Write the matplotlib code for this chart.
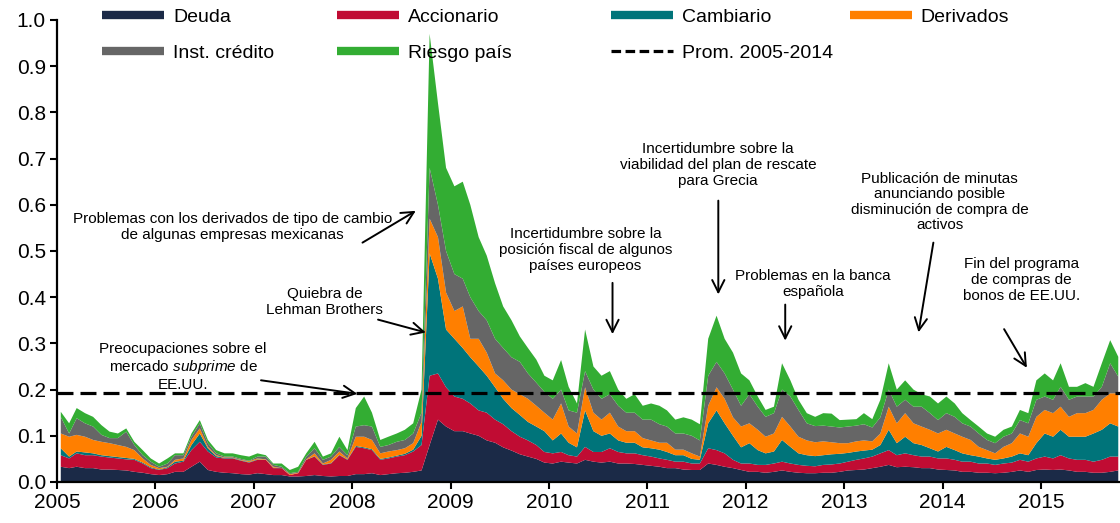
import matplotlib
matplotlib.use("Agg")
import matplotlib.pyplot as plt
import matplotlib.dates as mdates
from matplotlib.lines import Line2D
import numpy as np
import pandas as pd

plt.rcParams["font.family"] = "Liberation Sans"
plt.rcParams["mathtext.fontset"] = "custom"
plt.rcParams["mathtext.it"] = "Liberation Sans:italic"
plt.rcParams["mathtext.rm"] = "Liberation Sans"

# Datos mensuales ene-2005 a oct-2015
fechas = pd.date_range("2005-01-01", "2015-10-01", freq="MS") + pd.Timedelta(days=14)

deuda = [
    .033, .030, .033, .030, .030, .027, .027, .026, .025, .022, .020, .017,
    .015, .017, .022, .022, .033, .044, .026, .022, .020, .019, .017, .016,
    .019, .017, .015, .015, .012, .012, .013, .015, .013, .012, .013, .013,
    .017, .017, .019, .015, .017, .019, .020, .022, .025, .080, .135, .120,
    .110, .110, .105, .100, .090, .085, .075, .068, .060, .055, .050, .042,
    .040, .044, .042, .040, .048, .044, .042, .044, .040, .040, .039, .037,
    .035, .033, .030, .030, .027, .026, .026, .040, .037, .033, .030, .026,
    .022, .022, .020, .022, .025, .022, .020, .019, .019, .020, .020, .022,
    .025, .026, .027, .030, .033, .037, .032, .033, .032, .030, .030, .027,
    .026, .025, .022, .022, .020, .020, .019, .020, .022, .025, .022, .026,
    .027, .026, .027, .025, .022, .022, .020, .020, .022, .025,
]
accionario = [
    .025, .021, .029, .028, .028, .028, .026, .025, .024, .026, .020, .013,
    .011, .013, .018, .022, .036, .043, .040, .031, .031, .032, .029, .026,
    .029, .031, .015, .015, .003, .007, .035, .040, .024, .028, .045, .035,
    .059, .056, .050, .033, .034, .036, .038, .044, .055, .150, .100, .085,
    .075, .070, .065, .055, .060, .050, .050, .042, .038, .035, .030, .023,
    .022, .021, .016, .015, .028, .021, .023, .029, .025, .022, .023, .021,
    .020, .018, .018, .014, .017, .014, .014, .033, .032, .029, .018, .014,
    .018, .015, .017, .018, .019, .018, .017, .016, .015, .017, .018, .018,
    .019, .022, .024, .025, .029, .032, .026, .029, .026, .025, .025, .024,
    .025, .023, .022, .022, .020, .020, .018, .020, .020, .023, .022, .025,
    .028, .025, .031, .026, .026, .026, .024, .028, .033, .030,
]
cambiario = [
    .015, .004, .004, .006, .004, .003, .003, .003, .003, .002, .002, .002,
    .001, .002, .004, .002, .011, .018, .007, .003, .001, .001, .001, .001,
    .001, .000, .001, .000, .000, .000, .000, .001, .001, .001, .001, .001,
    .002, .002, .002, .002, .002, .002, .003, .004, .020, .265, .205, .125,
    .125, .110, .100, .095, .080, .070, .055, .050, .047, .040, .040, .045,
    .028, .040, .027, .020, .079, .045, .035, .032, .025, .023, .023, .017,
    .018, .019, .017, .014, .014, .010, .008, .054, .086, .065, .052, .035,
    .044, .032, .025, .026, .047, .036, .025, .023, .022, .021, .022, .021,
    .019, .018, .017, .015, .018, .044, .026, .036, .026, .025, .018, .015,
    .025, .021, .018, .014, .015, .011, .011, .011, .013, .014, .014, .033,
    .050, .047, .055, .047, .050, .050, .061, .065, .072, .065,
]
derivados = [
    .032, .043, .036, .034, .029, .029, .028, .026, .024, .019, .009, .005,
    .003, .001, .004, .005, .011, .011, .003, .002, .001, .001, .001, .002,
    .002, .001, .002, .000, .002, .001, .001, .006, .002, .007, .007, .002,
    .020, .023, .020, .012, .013, .012, .012, .014, .030, .075, .090, .080,
    .060, .090, .040, .060, .050, .030, .040, .040, .045, .050, .045, .040,
    .045, .065, .035, .030, .050, .040, .035, .045, .030, .025, .025, .020,
    .017, .015, .020, .012, .012, .012, .007, .038, .050, .053, .040, .045,
    .043, .044, .036, .039, .050, .044, .036, .032, .030, .030, .026, .023,
    .021, .022, .022, .018, .025, .050, .043, .051, .043, .040, .040, .039,
    .037, .036, .036, .033, .021, .018, .014, .025, .029, .043, .040, .057,
    .051, .051, .050, .043, .051, .051, .051, .065, .065, .072,
]
inst_credito = [
    .036, .007, .036, .029, .029, .015, .011, .015, .033, .011, .007, .007,
    .003, .007, .010, .007, .007, .011, .008, .004, .002, .002, .002, .001,
    .004, .006, .004, .003, .002, .002, .006, .011, .008, .007, .010, .007,
    .022, .025, .029, .014, .014, .018, .018, .021, .020, .110, .070, .090,
    .080, .060, .090, .060, .070, .075, .070, .070, .070, .055, .050, .045,
    .045, .030, .035, .045, .035, .050, .045, .040, .045, .040, .040, .040,
    .045, .040, .035, .035, .035, .038, .035, .065, .055, .055, .060, .045,
    .063, .050, .043, .044, .059, .065, .058, .037, .035, .034, .034, .034,
    .036, .034, .035, .030, .035, .037, .036, .029, .036, .043, .036, .029,
    .036, .036, .029, .029, .029, .022, .022, .022, .021, .029, .029, .037,
    .029, .029, .043, .037, .036, .036, .029, .028, .065, .036,
]
riesgo_pais = [
    .011, .022, .022, .022, .021, .021, .014, .010, .007, .007, .011, .007,
    .007, .011, .004, .004, .007, .007, .007, .007, .007, .007, .008, .009,
    .007, .003, .003, .007, .007, .011, .007, .014, .007, .007, .022, .011,
    .040, .062, .030, .015, .018, .018, .022, .022, .050, .290, .220, .180,
    .190, .210, .200, .160, .140, .120, .090, .080, .055, .055, .050, .035,
    .040, .064, .051, .020, .090, .050, .050, .050, .035, .030, .040, .030,
    .035, .040, .035, .030, .035, .035, .035, .080, .100, .075, .080, .070,
    .030, .022, .015, .014, .057, .035, .022, .022, .020, .027, .028, .016,
    .015, .014, .024, .018, .038, .057, .037, .042, .037, .027, .036, .036,
    .036, .029, .022, .014, .015, .014, .014, .015, .015, .022, .022, .042,
    .050, .042, .051, .028, .021, .029, .021, .051, .050, .043,
]
promedio = 0.192

nombres = ["Deuda", "Accionario", "Cambiario", "Derivados", "Inst. crédito", "Riesgo país"]
colores = ["#1b2a47", "#c00c33", "#00747a", "#ff7f00", "#666666", "#33ad33"]


def fecha(a):
    # año decimal -> fecha, para ubicar textos y flechas
    return pd.Timestamp("2005-01-01") + pd.Timedelta(days=(a - 2005) * 365.25)


fig = plt.figure(figsize=(11.2, 5.23), dpi=100)
ax = fig.add_axes([0.0509, 0.0784, 0.949, 0.8834])

ax.stackplot(fechas, deuda, accionario, cambiario, derivados, inst_credito, riesgo_pais,
             colors=colores, linewidth=0)
ax.axhline(promedio, color="black", lw=2.3, ls=(0, (5, 2.2)))

ax.set_ylim(0, 1)
ax.set_xlim(pd.Timestamp("2005-01-01"), pd.Timestamp("2015-10-21"))
ax.set_yticks(np.arange(0, 1.01, 0.1))
ax.yaxis.set_major_formatter(matplotlib.ticker.FormatStrFormatter("%.1f"))
ax.xaxis.set_major_locator(mdates.YearLocator())
ax.xaxis.set_major_formatter(mdates.DateFormatter("%Y"))
for s in ["top", "right"]:
    ax.spines[s].set_visible(False)
for s in ["left", "bottom"]:
    ax.spines[s].set_linewidth(1.6)
ax.tick_params(direction="out", length=5, width=1.5, labelsize=15, pad=3)

# Anotaciones
notas = [
    ("Problemas con los derivados de tipo de cambio\nde algunas empresas mexicanas",
     2006.78, 0.552, (2008.08, 0.515), (2008.67, 0.59)),
    ("Quiebra de\nLehman Brothers", 2007.72, 0.39, (2008.235, 0.353), (2008.775, 0.322)),
    ("Preocupaciones sobre el\nmercado $\\it{subprime}$ de\nEE.UU.",
     2006.28, 0.249, (2007.045, 0.221), (2008.08, 0.19)),
    ("Incertidumbre sobre la\nposición fiscal de algunos\npaíses europeos",
     2010.37, 0.502, (2010.645, 0.437), (2010.645, 0.314)),
    ("Incertidumbre sobre la\nviabilidad del plan de rescate\npara Grecia",
     2011.72, 0.686, (2011.72, 0.615), (2011.72, 0.40)),
    ("Problemas en la banca\nespañola", 2012.68, 0.429, (2012.40, 0.39), (2012.40, 0.30)),
    ("Publicación de minutas\nanunciando posible\ndisminución de compra de\nactivos",
     2013.97, 0.606, (2013.91, 0.524), (2013.75, 0.318)),
    ("Fin del programa\nde compras de\nbonos de EE.UU.", 2014.80, 0.437,
     (2014.61, 0.336), (2014.87, 0.242)),
]
for texto, tx, ty, inicio, punta in notas:
    ax.text(fecha(tx), ty, texto, ha="center", va="center", fontsize=11, linespacing=1.15)
    ax.annotate("", xy=(fecha(punta[0]), punta[1]), xytext=(fecha(inicio[0]), inicio[1]),
                arrowprops=dict(arrowstyle="->", color="black", lw=1.4, mutation_scale=22))

# Leyenda en cuatro columnas fijas
h = [Line2D([], [], color=c, lw=6, solid_capstyle="butt") for c in colores]
h_prom = Line2D([], [], color="black", lw=2.3, ls=(0, (3, 1.4)))
columnas = [
    ([h[0], h[4]], [nombres[0], nombres[4]], 0.0893),
    ([h[1], h[5]], [nombres[1], nombres[5]], 0.299),
    ([h[2], h_prom], [nombres[2], "Prom. 2005-2014"], 0.544),
    ([h[3]], [nombres[3]], 0.757),
]
for hs, ls, x0 in columnas:
    fig.legend(hs, ls, loc="upper left", bbox_to_anchor=(x0, 0.9885), frameon=False,
               fontsize=14, handlelength=3.2, handletextpad=0.45, borderpad=0.1,
               borderaxespad=0, labelspacing=0.96)

fig.savefig("out.png", dpi=100)
